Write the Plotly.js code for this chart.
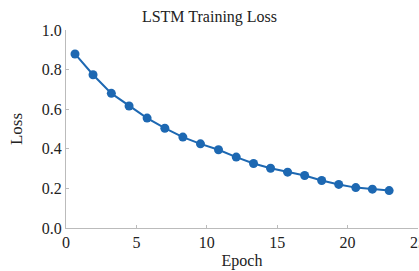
<!DOCTYPE html>
<html>
<head>
<meta charset="utf-8">
<script src="https://cdn.plot.ly/plotly-3.0.1.min.js"></script>
<style>html,body{margin:0;padding:0;background:#fff}#chart{width:419px;height:271px}</style>
</head>
<body>
<div id="chart"></div>
<script>
const epochs = [0.64, 1.92, 3.22, 4.48, 5.76, 7.02, 8.30, 9.55, 10.83, 12.09, 13.32, 14.53, 15.74, 16.95, 18.16, 19.37, 20.58, 21.76, 22.95];
const loss = [0.879, 0.774, 0.680, 0.616, 0.555, 0.504, 0.459, 0.425, 0.395, 0.358, 0.326, 0.302, 0.282, 0.265, 0.240, 0.220, 0.204, 0.196, 0.189];
const xTicks = [0, 5, 10, 15, 20, 25];
const yTicks = [0.0, 0.2, 0.4, 0.6, 0.8, 1.0];
const titleText = "LSTM Training Loss";
const xTitle = "Epoch";
const yTitle = "Loss";

const serif = "'Liberation Serif', 'Times New Roman', serif";
const trace = {
  x: epochs, y: loss, type: 'scatter', mode: 'lines+markers',
  line: {color: '#1d68b2', width: 2},
  marker: {color: '#1d68b2', size: 9},
  cliponaxis: false
};
const layout = {
  width: 419, height: 271,
  margin: {l: 66, r: 1, t: 30, b: 43},
  paper_bgcolor: '#fff', plot_bgcolor: '#fff',
  showlegend: false,
  font: {family: serif, color: '#222', size: 16},
  title: {text: titleText, x: 0.5, xref: 'container', xanchor: 'center', y: 0.94, yref: 'container', yanchor: 'middle', font: {family: serif, size: 16, color: '#222'}},
  xaxis: {
    range: [0, 25], tickvals: xTicks, ticktext: xTicks.map(String),
    showgrid: false, zeroline: false, showline: true, linecolor: '#bbbbbb', linewidth: 1,
    ticks: 'inside', ticklen: 3, tickcolor: '#bbbbbb', ticklabeloverflow: 'allow',
    tickfont: {family: serif, size: 16, color: '#222'},
    title: {text: xTitle, standoff: 4, font: {family: serif, size: 16, color: '#222'}}
  },
  yaxis: {
    range: [0, 1.0], tickvals: yTicks, ticktext: yTicks.map(v => v.toFixed(1)),
    showgrid: false, zeroline: false, showline: true, linecolor: '#bbbbbb', linewidth: 1,
    ticks: 'inside', ticklen: 3, tickcolor: '#bbbbbb',
    tickfont: {family: serif, size: 16, color: '#222'},
    title: {text: yTitle, standoff: 14, font: {family: serif, size: 17, color: '#222'}}
  }
};
Plotly.newPlot('chart', [trace], layout, {staticPlot: true, displayModeBar: false});
</script>
</body>
</html>
